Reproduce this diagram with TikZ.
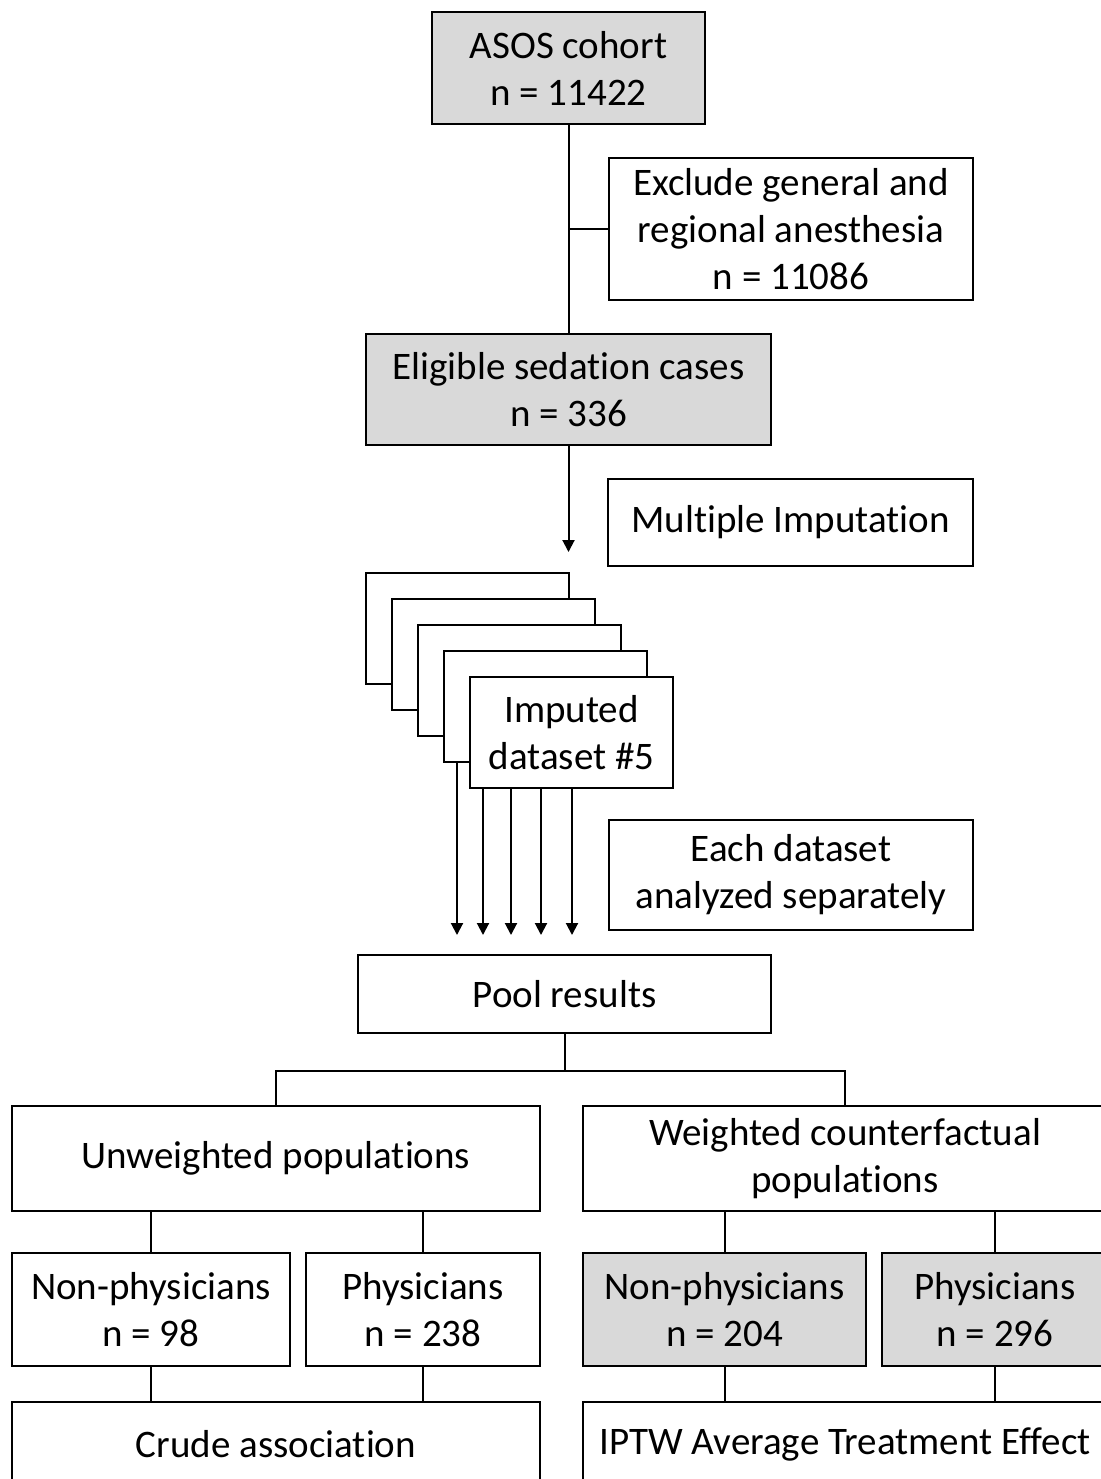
\documentclass[tikz,border=0pt]{standalone}
\usepackage{fontspec}
\setmainfont{Carlito}[Ligatures={NoCommon}]
\usetikzlibrary{arrows.meta}
\definecolor{boxgray}{HTML}{D9D9D9}
\begin{document}
\begin{tikzpicture}[x=0.5pt,y=-0.5pt,
  box/.style={draw, line width=1pt, fill=white, inner sep=0pt, align=center,
    font=\fontsize{19.5}{23.5}\selectfont},
  gbox/.style={box, fill=boxgray},
  conn/.style={line width=1pt},
  arr/.style={line width=1pt, -{Triangle[width=6pt,length=6pt]}}]
\useasboundingbox (0,0) rectangle (1101,1479);
% top part
\node[gbox, minimum width=136.5pt, minimum height=56pt] (asos) at (568.5,68) {ASOS cohort\\n = 11422};
\node[box, minimum width=182pt, minimum height=71pt] (excl) at (791,229) {Exclude general and\\regional anesthesia\\n = 11086};
\node[gbox, minimum width=202.5pt, minimum height=55.5pt] (elig) at (568.5,389.5) {Eligible sedation cases\\n = 336};
\node[box, minimum width=182.5pt, minimum height=43.5pt] (multi) at (790.5,522.5) {Multiple Imputation};
\draw[conn] (asos.south) -- (elig.north);
\draw[conn] (excl.west) -- (excl.west -| asos.south);
\coordinate (mi) at (568.5,552);
\draw[arr] (elig.south) -- (mi);
% stacked datasets
\node[box, minimum width=101.5pt, minimum height=55.5pt] (d1) at (467.5,628.5) {};
\node[box, minimum width=101.5pt, minimum height=55.5pt] (d2) at (493.5,654.5) {};
\node[box, minimum width=101.5pt, minimum height=55.5pt] (d3) at (519.5,680.5) {};
\node[box, minimum width=101.5pt, minimum height=55.5pt] (d4) at (545.5,706.5) {};
\node[box, minimum width=101.5pt, minimum height=55.5pt] (d5) at (571.5,732.5) {Imputed\\dataset \#5};
\node[box, minimum width=182pt, minimum height=55pt] (each) at (791,875) {Each dataset\\analyzed separately};
\coordinate (t1) at (457,935);
\coordinate (t2) at (483,935);
\coordinate (t3) at (511,935);
\coordinate (t4) at (541,935);
\coordinate (t5) at (572,935);
\draw[arr] (t1 |- d4.south) -- (t1);
\draw[arr] (t2 |- d5.south) -- (t2);
\draw[arr] (t3 |- d5.south) -- (t3);
\draw[arr] (t4 |- d5.south) -- (t4);
\draw[arr] (t5 |- d5.south) -- (t5);
% pool
\node[box, minimum width=206.5pt, minimum height=39pt] (pool) at (564.5,994) {Pool results};
\node[box, minimum width=264pt, minimum height=52.5pt] (unw) at (276,1158.5) {Unweighted populations};
\node[box, minimum width=262pt, minimum height=52.5pt] (wtd) at (845,1158.5) {Weighted counterfactual\\populations};
\coordinate (split) at (564.5,1071);
\draw[conn] (pool.south) -- (split);
\draw[conn] (unw.north) -- (unw.north |- split) -- (wtd.north |- split) -- (wtd.north);
% groups
\node[box, minimum width=139pt, minimum height=56.5pt] (np1) at (151,1309.5) {Non-physicians\\n = 98};
\node[box, minimum width=117pt, minimum height=56.5pt] (ph1) at (423,1309.5) {Physicians\\n = 238};
\node[gbox, minimum width=141.5pt, minimum height=56.5pt] (np2) at (724.5,1309.5) {Non-physicians\\n = 204};
\node[gbox, minimum width=113pt, minimum height=56.5pt] (ph2) at (995,1309.5) {Physicians\\n = 296};
\draw[conn] (np1.north) -- (np1.north |- unw.south);
\draw[conn] (ph1.north) -- (ph1.north |- unw.south);
\draw[conn] (np2.north) -- (np2.north |- wtd.south);
\draw[conn] (ph2.north) -- (ph2.north |- wtd.south);
% results
\node[box, minimum width=264pt, minimum height=42pt] (crude) at (276,1444) {Crude association};
\node[box, minimum width=262pt, minimum height=42pt] (iptw) at (845,1444) {IPTW Average Treatment Effect};
\draw[conn] (np1.south) -- (np1.south |- crude.north);
\draw[conn] (ph1.south) -- (ph1.south |- crude.north);
\draw[conn] (np2.south) -- (np2.south |- iptw.north);
\draw[conn] (ph2.south) -- (ph2.south |- iptw.north);
\end{tikzpicture}
\end{document}
